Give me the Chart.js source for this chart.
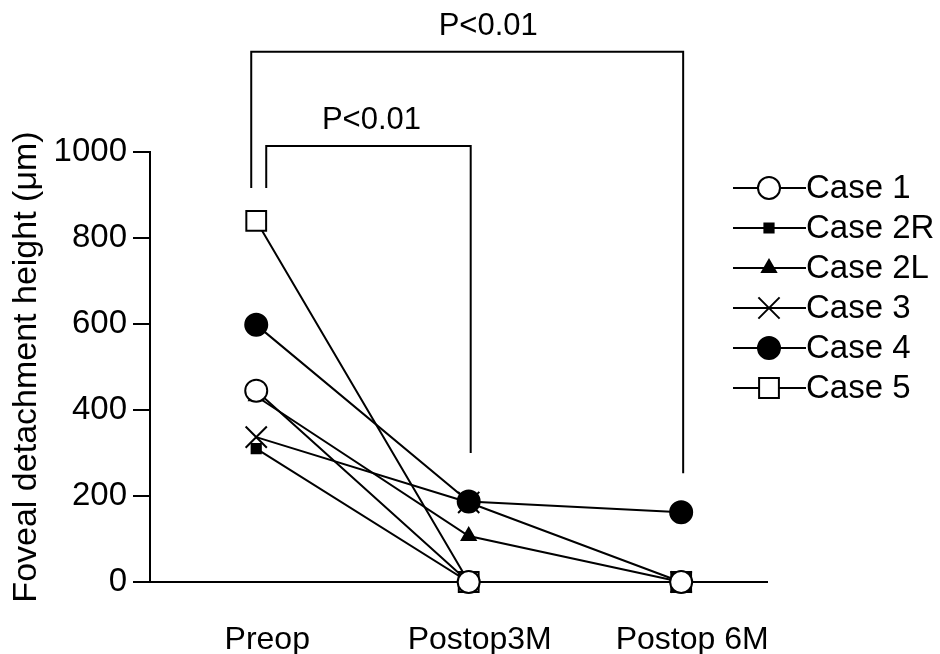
<!DOCTYPE html>
<html>
<head>
<meta charset="utf-8">
<script src="https://cdn.jsdelivr.net/npm/chart.js@4.4.1/dist/chart.umd.min.js"></script>
<style>
  html, body { margin: 0; padding: 0; background: #fff; }
  #wrap { width: 940px; height: 654px; }
</style>
</head>
<body>
<div id="wrap"><canvas id="chart1" width="940" height="654"></canvas></div>
<script>
const categories = ['Preop', 'Postop3M', 'Postop 6M'];
const caseNames = ['Case 1', 'Case 2R', 'Case 2L', 'Case 3', 'Case 4', 'Case 5'];
const case1 = [445, 0, 0];
const case2R = [310, 0, 0];
const case2L = [432, 107, 0];
const case3 = [337, 185, 0];
const case4 = [598, 187, 162];
const case5 = [840, 0, 0];
const yTicks = [0, 200, 400, 600, 800, 1000];
// significance brackets: from category, to category, top value, leg ends, label
const brackets = [
  { from: 0, to: 2, top: 1233, legFrom: 916, legTo: 253, text: 'P<0.01' },
  { from: 0, to: 1, top: 1014, legFrom: 916, legTo: 300, text: 'P<0.01' }
];

const FONT = '"Liberation Sans", Arial, Helvetica, sans-serif';

const styles = [
  { pointStyle: 'circle', radius: 11, fill: '#fff' },
  { pointStyle: 'rect', radius: 6.5, fill: '#000' },
  { pointStyle: 'triangle', radius: 8, fill: '#000' },
  { pointStyle: 'crossRot', radius: 15, fill: '#000' },
  { pointStyle: 'circle', radius: 11, fill: '#000' },
  { pointStyle: 'rect', radius: 14, fill: '#fff' }
];
const allData = [case1, case2R, case2L, case3, case4, case5];

const datasets = allData.map(function (d, i) {
  return {
    label: caseNames[i],
    data: d.map(function (v, k) { return { x: k, y: v }; }),
    borderColor: '#000',
    borderWidth: 2,
    pointStyle: styles[i].pointStyle,
    pointRadius: styles[i].radius,
    pointBackgroundColor: styles[i].fill,
    pointBorderColor: '#000',
    pointBorderWidth: 2,
    tension: 0,
    fill: false,
    clip: false
  };
});

const bracketPlugin = {
  id: 'brackets',
  afterDraw(chart) {
    const ctx = chart.ctx;
    const x = chart.scales.x, y = chart.scales.y;
    const textShift = [21, 3];
    ctx.save();
    ctx.strokeStyle = '#000';
    ctx.lineWidth = 2;
    ctx.fillStyle = '#000';
    ctx.font = '31px ' + FONT;
    ctx.textAlign = 'center';
    ctx.textBaseline = 'bottom';
    brackets.forEach(function (b, i) {
      const x1 = x.getPixelForValue(b.from) + (i === 0 ? -5 : 10);
      const x2 = x.getPixelForValue(b.to) + 2;
      const yt = y.getPixelForValue(b.top);
      ctx.beginPath();
      ctx.moveTo(x1, y.getPixelForValue(b.legFrom));
      ctx.lineTo(x1, yt);
      ctx.lineTo(x2, yt);
      ctx.lineTo(x2, y.getPixelForValue(b.legTo));
      ctx.stroke();
      ctx.fillText(b.text, (x1 + x2) / 2 + textShift[i], yt - 10);
    });
    ctx.restore();
  }
};

const legendPlugin = {
  id: 'caseLegend',
  afterDraw(chart) {
    const ctx = chart.ctx;
    ctx.save();
    chart.data.datasets.forEach(function (ds, i) {
      const yy = 188 + i * 40;
      ctx.strokeStyle = '#000';
      ctx.lineWidth = 2;
      ctx.beginPath();
      ctx.moveTo(733, yy);
      ctx.lineTo(806, yy);
      ctx.stroke();
      ctx.fillStyle = ds.pointBackgroundColor;
      Chart.helpers.drawPoint(ctx, {
        pointStyle: ds.pointStyle,
        radius: ds.pointRadius,
        borderWidth: 2
      }, 769, yy);
      ctx.fillStyle = '#000';
      ctx.font = '33px ' + FONT;
      ctx.textAlign = 'left';
      ctx.textBaseline = 'middle';
      ctx.fillText(ds.label, 806, yy + 1);
    });
    ctx.restore();
  }
};

new Chart(document.getElementById('chart1'), {
  type: 'line',
  data: { datasets: datasets },
  plugins: [bracketPlugin, legendPlugin],
  options: {
    responsive: false,
    animation: false,
    layout: { padding: { top: 152, right: 173, left: 0, bottom: 0 } },
    plugins: {
      legend: { display: false },
      tooltip: { enabled: false }
    },
    scales: {
      x: {
        type: 'linear',
        min: -0.5,
        max: 2.404,
        afterFit(scale) { scale.height = 72; },
        afterBuildTicks(scale) { scale.ticks = categories.map((c, k) => ({ value: k })); },
        grid: { display: false },
        border: { display: true, color: '#000', width: 2 },
        ticks: {
          color: '#000', padding: 31, labelOffset: 11,
          font: { family: FONT, size: 32 }, maxRotation: 0, autoSkip: false,
          callback: function (v) { return categories[v]; }
        }
      },
      y: {
        min: 0,
        max: 1000,
        afterFit(scale) { scale.width = 150; },
        afterBuildTicks(scale) { scale.ticks = yTicks.map(v => ({ value: v })); },
        grid: { drawOnChartArea: false, drawTicks: true, tickLength: 17, color: '#000', lineWidth: 2 },
        border: { display: true, color: '#000', width: 2 },
        ticks: {
          color: '#000', padding: 6, font: { family: FONT, size: 33 },
          callback: function (v) { return String(v); }
        },
        title: {
          display: true,
          text: 'Foveal detachment height (\u03bcm)',
          color: '#000',
          font: { family: FONT, size: 34 },
          padding: { top: 6, bottom: 0 }
        }
      }
    }
  }
});
</script>
</body>
</html>
